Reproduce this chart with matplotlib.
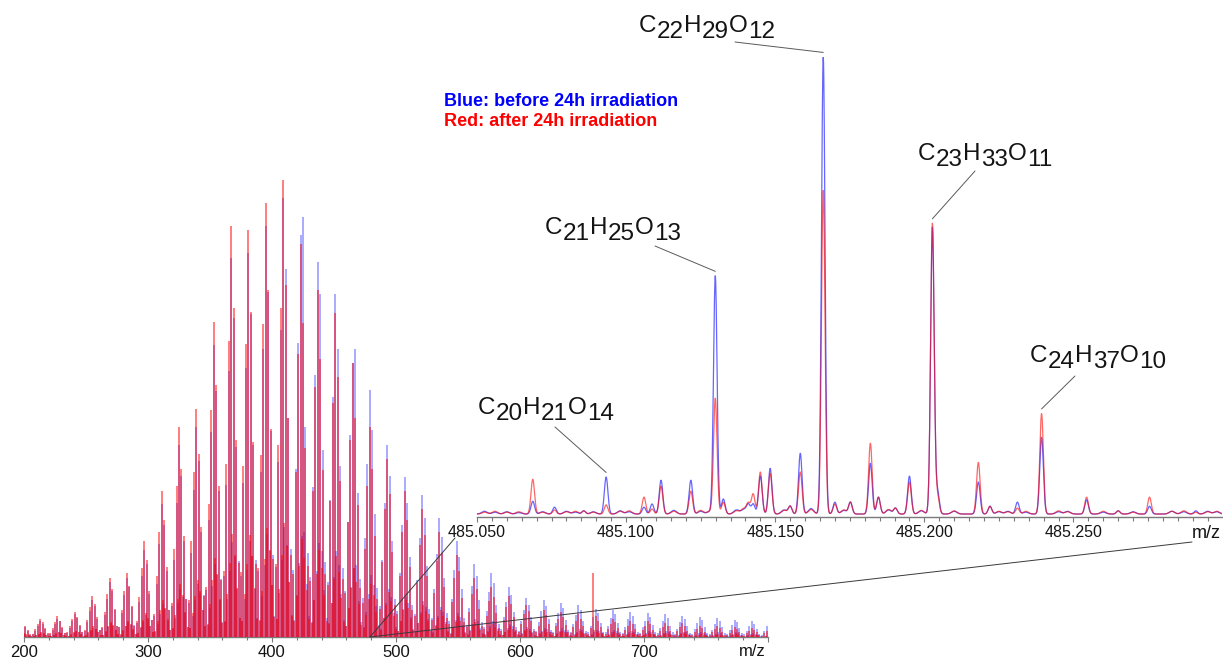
import re
import numpy as np
import matplotlib
matplotlib.use("Agg")
import matplotlib.pyplot as plt
from matplotlib.patches import ConnectionPatch
from matplotlib.ticker import MultipleLocator, FixedLocator

plt.rcParams['font.family'] = ['Liberation Sans', 'DejaVu Sans']

W, H = 1223, 660

# ---------------- overview spectrum (relative intensity, %) ----------------
odd_mz = np.arange(201, 800, 2)    # 201 .. 799
even_mz = np.arange(200, 799, 2)   # 200 .. 798

red_odd = [
    2.3, 1.5, 0.7,
    0.7, 1.7, 2.9, 4.0, 3.2, 1.9, 0.8,
    0.8, 1.9, 3.3, 4.5, 3.6, 2.1, 0.9,
    1.0, 2.3, 4.0, 5.5, 4.4, 2.6, 1.0,
    1.5, 3.8, 6.5, 9.0, 7.2, 4.3, 1.6,
    2.1, 5.5, 9.4, 13.0, 10.4, 6.2, 2.3,
    2.2, 5.9, 10.1, 14.0, 11.2, 6.7, 2.5,
    3.4, 8.8, 15.1, 21.0, 16.8, 10.1, 3.8,
    5.1, 13.4, 23.0, 32.0, 25.6, 15.4, 5.8,
    7.4, 19.3, 33.1, 46.0, 36.8, 22.1, 8.3,
    8.0, 21.0, 36.0, 50.0, 40.0, 24.0, 9.0,
    11.0, 29.0, 49.7, 69.0, 55.2, 33.1, 12.4,
    14.4, 37.8, 64.8, 90.0, 72.0, 43.2, 16.2,
    14.2, 37.4, 64.1, 89.0, 71.2, 42.7, 16.0,
    15.2, 39.9, 68.4, 95.0, 76.0, 45.6, 17.1,
    16.0, 42.0, 72.0, 100.0, 77.0, 48.0, 18.0,
    13.8, 36.1, 61.9, 86.0, 68.8, 41.3, 15.5,
    12.2, 31.9, 54.7, 76.0, 60.8, 36.5, 13.7,
    11.4, 29.8, 51.1, 71.0, 56.8, 34.1, 12.8,
    9.6, 25.2, 43.2, 60.0, 48.0, 28.8, 10.8,
    7.4, 19.3, 33.1, 46.0, 36.8, 22.1, 8.3,
    6.2, 16.4, 28.1, 39.0, 31.2, 18.7, 7.0,
    5.1, 13.4, 23.0, 32.0, 25.6, 15.4, 5.8,
    4.5, 11.8, 20.2, 28.0, 22.4, 13.4, 5.0,
    3.7, 9.7, 16.6, 23.0, 18.4, 11.0, 4.1,
    2.9, 7.6, 13.0, 18.0, 14.4, 8.6, 3.2,
    2.1, 5.5, 9.4, 13.0, 10.4, 6.2, 2.3,
    1.8, 4.6, 7.9, 11.0, 8.8, 5.3, 2.0,
    1.4, 3.8, 6.5, 9.0, 7.2, 4.3, 1.6,
    1.1, 2.9, 5.0, 7.0, 5.6, 3.4, 1.3,
    1.0, 2.5, 4.3, 6.0, 4.8, 2.9, 1.1,
    0.9, 2.3, 4.0, 5.5, 4.4, 2.6, 1.0,
    0.8, 2.1, 3.6, 5.0, 4.0, 2.4, 0.9,
    0.7, 1.9, 14.0, 4.5, 3.6, 2.2, 0.8,
    0.6, 1.7, 2.9, 4.0, 3.2, 1.9, 0.7,
    0.6, 1.5, 2.5, 3.5, 2.8, 1.7, 0.6,
    0.6, 1.5, 2.5, 3.4, 2.8, 1.6, 0.6,
    0.5, 1.3, 2.2, 3.0, 2.4, 1.4, 0.5,
    0.5, 1.3, 2.1, 3.0, 2.4, 1.4, 0.5,
    0.4, 1.1, 1.8, 2.5, 2.0, 1.2, 0.5,
    0.4, 1.1, 1.8, 2.5, 2.0, 1.2, 0.4,
    0.4, 0.9, 1.6, 2.2, 1.8, 1.1, 0.4,
    0.3, 0.8, 1.4, 2.0, 1.6, 1.0, 0.4,
    0.3, 0.8, 1.4,
]

blue_odd = [
    2.1, 1.3, 0.5,
    0.6, 1.4, 2.5, 3.5, 2.9, 1.8, 0.7,
    0.6, 1.6, 2.8, 4.0, 3.4, 2.0, 0.8,
    0.8, 2.0, 3.5, 5.0, 4.2, 2.5, 1.0,
    1.3, 3.2, 5.6, 8.0, 6.7, 4.0, 1.6,
    1.9, 4.8, 8.4, 12.0, 10.1, 6.0, 2.4,
    2.1, 5.2, 9.1, 13.0, 10.9, 6.5, 2.6,
    3.0, 7.6, 13.3, 19.0, 16.0, 9.5, 3.8,
    4.6, 11.6, 20.3, 29.0, 24.4, 14.5, 5.8,
    6.7, 16.8, 29.4, 42.0, 35.3, 21.0, 8.4,
    7.4, 18.4, 32.2, 46.0, 38.6, 23.0, 9.2,
    10.2, 25.6, 44.8, 64.0, 53.8, 32.0, 12.8,
    13.3, 33.2, 58.1, 83.0, 69.7, 41.5, 16.6,
    13.4, 33.6, 58.8, 84.0, 70.6, 42.0, 16.8,
    14.4, 36.0, 63.0, 90.0, 75.6, 45.0, 18.0,
    15.4, 38.4, 67.2, 96.0, 80.6, 48.0, 19.2,
    14.7, 36.8, 64.4, 88.0, 92.0, 46.0, 18.4,
    13.1, 32.8, 57.4, 82.0, 75.0, 41.0, 16.4,
    12.0, 30.0, 52.5, 75.0, 63.0, 37.5, 15.0,
    10.1, 25.2, 44.1, 60.0, 63.0, 31.5, 12.6,
    8.6, 21.6, 37.8, 54.0, 45.4, 27.0, 10.8,
    6.7, 16.8, 29.4, 42.0, 35.3, 21.0, 8.4,
    5.6, 14.0, 24.5, 35.0, 29.4, 17.5, 7.0,
    5.0, 12.4, 21.7, 31.0, 26.0, 15.5, 6.2,
    4.2, 10.4, 18.2, 26.0, 21.8, 13.0, 5.2,
    3.4, 8.4, 14.7, 21.0, 17.6, 10.5, 4.2,
    2.6, 6.4, 11.2, 16.0, 13.4, 8.0, 3.2,
    2.2, 5.6, 9.8, 14.0, 11.8, 7.0, 2.8,
    1.8, 4.4, 7.7, 11.0, 9.2, 5.5, 2.2,
    1.4, 3.4, 6.0, 8.5, 7.1, 4.3, 1.7,
    1.3, 3.2, 5.6, 8.0, 6.7, 4.0, 1.6,
    1.2, 3.0, 5.3, 7.5, 6.3, 3.8, 1.5,
    1.1, 2.8, 4.9, 7.0, 5.9, 3.5, 1.4,
    1.0, 2.5, 4.3, 6.2, 5.2, 3.1, 1.2,
    1.0, 2.4, 4.2, 6.0, 5.0, 3.0, 1.2,
    0.9, 2.2, 3.9, 5.5, 4.6, 2.8, 1.1,
    0.8, 2.1, 3.6, 5.2, 4.4, 2.6, 1.0,
    0.8, 2.0, 3.5, 5.0, 4.2, 2.5, 1.0,
    0.7, 1.8, 3.2, 4.6, 3.9, 2.3, 0.9,
    0.7, 1.8, 3.1, 4.4, 3.7, 2.2, 0.9,
    0.7, 1.6, 2.9, 4.1, 3.4, 2.1, 0.8,
    0.6, 1.5, 2.7, 3.8, 3.2, 1.9, 0.8,
    0.6, 1.4, 2.5, 3.5, 2.9, 1.8, 0.7,
    0.5, 1.3, 2.3,
]

red_even = [
    0.8, 0.6, 0.4, 0.3,
    0.2, 0.4, 0.7, 1.0, 0.8, 0.5, 0.2,
    0.2, 0.5, 0.8, 1.1, 0.9, 0.5, 0.2,
    0.3, 0.6, 1.0, 1.4, 1.1, 0.7, 0.3,
    0.4, 1.0, 1.6, 2.3, 1.8, 1.1, 0.4,
    0.5, 1.4, 2.4, 3.3, 2.6, 1.6, 0.6,
    0.6, 1.5, 2.5, 3.5, 2.8, 1.7, 0.6,
    0.9, 2.2, 3.8, 5.3, 4.2, 2.5, 1.0,
    1.3, 3.4, 5.8, 8.0, 6.4, 3.9, 1.5,
    1.9, 4.8, 8.3, 11.5, 9.2, 5.5, 2.1,
    2.0, 5.3, 9.0, 12.5, 10.0, 6.0, 2.3,
    2.8, 7.3, 12.4, 17.3, 13.8, 8.3, 3.1,
    3.6, 9.5, 16.2, 22.5, 18.0, 10.8, 4.1,
    3.6, 9.4, 16.0, 22.3, 17.8, 10.7, 4.0,
    3.8, 10.0, 17.1, 23.8, 19.0, 11.4, 4.3,
    4.0, 10.5, 18.0, 25.0, 20.0, 12.0, 4.5,
    3.5, 9.0, 15.5, 21.5, 17.2, 10.3, 3.9,
    3.1, 8.0, 13.7, 19.0, 15.2, 9.1, 3.4,
    2.9, 7.5, 12.8, 17.8, 14.2, 8.5, 3.2,
    2.4, 6.3, 10.8, 15.0, 12.0, 7.2, 2.7,
    1.9, 4.8, 8.3, 11.5, 9.2, 5.5, 2.1,
    1.6, 4.1, 7.0, 9.8, 7.8, 4.7, 1.8,
    1.3, 3.4, 5.8, 8.0, 6.4, 3.9, 1.5,
    1.1, 3.0, 5.1, 7.0, 5.6, 3.4, 1.3,
    0.9, 2.4, 4.2, 5.8, 4.6, 2.8, 1.0,
    0.7, 1.9, 3.3, 4.5, 3.6, 2.2, 0.8,
    0.5, 1.4, 2.4, 3.3, 2.6, 1.6, 0.6,
    0.5, 1.2, 2.0, 2.8, 2.2, 1.3, 0.5,
    0.4, 1.0, 1.6, 2.3, 1.8, 1.1, 0.4,
    0.3, 0.7, 1.3, 1.8, 1.4, 0.9, 0.3,
    0.3, 0.6, 1.1, 1.5, 1.2, 0.7, 0.3,
    0.2, 0.6, 1.0, 1.4, 1.1, 0.7, 0.3,
    0.2, 0.5, 0.9, 1.3, 1.0, 0.6, 0.2,
    0.2, 0.5, 1.5, 1.1, 0.9, 0.6, 0.2,
    0.2, 0.4, 0.7, 1.0, 0.8, 0.5, 0.2,
    0.2, 0.4, 0.6, 0.9, 0.7, 0.4, 0.2,
    0.2, 0.4, 0.6, 0.9, 0.7, 0.4, 0.2,
    0.1, 0.3, 0.6, 0.8, 0.6, 0.4, 0.1,
    0.1, 0.3, 0.6, 0.8, 0.6, 0.4, 0.1,
    0.1, 0.3, 0.5, 0.6, 0.5, 0.3, 0.1,
    0.1, 0.3, 0.5, 0.6, 0.5, 0.3, 0.1,
    0.1, 0.2, 0.4, 0.6, 0.5, 0.3, 0.1,
    0.1, 0.2, 0.4, 0.5, 0.4, 0.3, 0.1,
    0.1, 0.2,
]

blue_even = [
    0.7, 0.5, 0.3, 0.2,
    0.2, 0.4, 0.6, 0.9, 0.7, 0.5, 0.2,
    0.2, 0.4, 0.7, 1.0, 0.9, 0.5, 0.2,
    0.2, 0.5, 0.9, 1.3, 1.1, 0.6, 0.3,
    0.3, 0.8, 1.4, 2.0, 1.7, 1.0, 0.4,
    0.5, 1.2, 2.1, 3.0, 2.5, 1.5, 0.6,
    0.5, 1.3, 2.3, 3.3, 2.7, 1.6, 0.7,
    0.8, 1.9, 3.3, 4.8, 4.0, 2.4, 1.0,
    1.2, 2.9, 5.1, 7.3, 6.1, 3.6, 1.5,
    1.7, 4.2, 7.4, 10.5, 8.8, 5.3, 2.1,
    1.9, 4.6, 8.1, 11.5, 9.7, 5.8, 2.3,
    2.6, 6.4, 11.2, 16.0, 13.5, 8.0, 3.2,
    3.3, 8.3, 14.5, 20.8, 17.4, 10.4, 4.2,
    3.4, 8.4, 14.7, 21.0, 17.7, 10.5, 4.2,
    3.6, 9.0, 15.8, 22.5, 18.9, 11.3, 4.5,
    3.9, 9.6, 16.8, 24.0, 20.2, 12.0, 4.8,
    3.7, 9.2, 16.1, 22.0, 23.0, 11.5, 4.6,
    3.3, 8.2, 14.4, 20.5, 18.8, 10.3, 4.1,
    3.0, 7.5, 13.1, 18.8, 15.8, 9.4, 3.8,
    2.5, 6.3, 11.0, 15.0, 15.8, 7.9, 3.2,
    2.2, 5.4, 9.5, 13.5, 11.4, 6.8, 2.7,
    1.7, 4.2, 7.4, 10.5, 8.8, 5.3, 2.1,
    1.4, 3.5, 6.1, 8.8, 7.4, 4.4, 1.8,
    1.3, 3.1, 5.4, 7.8, 6.5, 3.9, 1.6,
    1.1, 2.6, 4.6, 6.5, 5.5, 3.3, 1.3,
    0.9, 2.1, 3.7, 5.3, 4.4, 2.6, 1.1,
    0.7, 1.6, 2.8, 4.0, 3.4, 2.0, 0.8,
    0.6, 1.4, 2.5, 3.5, 3.0, 1.8, 0.7,
    0.5, 1.1, 1.9, 2.8, 2.3, 1.4, 0.6,
    0.4, 0.9, 1.5, 2.1, 1.8, 1.1, 0.4,
    0.3, 0.8, 1.4, 2.0, 1.7, 1.0, 0.4,
    0.3, 0.8, 1.3, 1.9, 1.6, 1.0, 0.4,
    0.3, 0.7, 1.2, 1.8, 1.5, 0.9, 0.4,
    0.3, 0.6, 1.1, 1.6, 1.3, 0.8, 0.3,
    0.3, 0.6, 1.1, 1.5, 1.3, 0.8, 0.3,
    0.2, 0.6, 1.0, 1.4, 1.2, 0.7, 0.3,
    0.2, 0.5, 0.9, 1.3, 1.1, 0.7, 0.3,
    0.2, 0.5, 0.9, 1.3, 1.1, 0.6, 0.3,
    0.2, 0.5, 0.8, 1.2, 1.0, 0.6, 0.2,
    0.2, 0.5, 0.8, 1.1, 0.9, 0.6, 0.2,
    0.2, 0.4, 0.7, 1.0, 0.9, 0.5, 0.2,
    0.2, 0.4, 0.7, 1.0, 0.8, 0.5, 0.2,
    0.2, 0.4, 0.6, 0.9, 0.7, 0.5, 0.2,
    0.1, 0.3,
]

main_ticks = [200, 300, 400, 500, 600, 700, 800]
main_ticklabels = ['200', '300', '400', '500', '600', '700', '']

# ---------------- zoomed spectrum around m/z 485 ----------------
zoom_mz = [485.0687, 485.0760, 485.0858, 485.0933, 485.1060, 485.1087, 485.1117,
           485.1217, 485.1299, 485.1326, 485.1410, 485.1426, 485.1450, 485.1483,
           485.1550, 485.1584, 485.1661, 485.1700, 485.1752, 485.1819, 485.1846,
           485.1903, 485.1950, 485.2027, 485.2044, 485.2181, 485.2220, 485.2312,
           485.2393, 485.2544, 485.2650, 485.2755, 485.2910]
zoom_blue = [2.8, 1.5, 0.7, 8.1, 1.5, 2.2, 7.4,
             7.4, 52.1, 3.3, 2.0, 2.2, 8.3, 10.0,
             1.7, 13.3, 100.0, 2.6, 2.6, 11.1, 3.7,
             1.3, 8.3, 62.7, 4.8, 7.0, 1.7, 2.6,
             16.8, 3.1, 0.7, 1.7, 0.7]
zoom_red = [7.6, 0.9, 0.7, 2.0, 3.7, 1.1, 6.1,
            5.0, 25.3, 2.6, 2.2, 4.4, 9.2, 8.9,
            1.7, 9.2, 70.8, 2.2, 2.6, 15.5, 3.7,
            1.3, 7.0, 63.6, 3.9, 11.3, 1.7, 1.3,
            22.0, 3.7, 0.7, 3.7, 0.4]

noise_mz = [485.0525, 485.0560, 485.0600, 485.0640, 485.0720, 485.0800, 485.0830,
            485.0890, 485.0980, 485.1010, 485.1160, 485.1250, 485.1280, 485.1370,
            485.1395, 485.1530, 485.1620, 485.1730, 485.1880, 485.1990, 485.2100,
            485.2250, 485.2280, 485.2340, 485.2450, 485.2480, 485.2600, 485.2700,
            485.2830, 485.2870, 485.2950, 485.2980]
noise_blue = [0.6, 0.4, 0.5, 0.3, 0.5, 0.6, 0.4, 0.5, 0.7, 0.5, 0.8, 0.6, 0.5, 0.9,
              1.0, 0.9, 1.2, 0.8, 0.9, 0.7, 0.6, 0.5, 0.6, 0.4, 0.5, 0.6, 0.4, 0.5,
              0.6, 0.5, 0.6, 0.5]
noise_red = [0.4, 0.6, 0.4, 0.5, 0.4, 0.5, 0.6, 0.4, 0.6, 0.7, 0.6, 0.8, 0.6, 0.7,
             1.2, 0.8, 1.0, 0.9, 1.0, 0.8, 0.7, 0.6, 0.5, 0.6, 0.7, 0.5, 0.6, 0.4,
             0.6, 0.7, 0.5, 0.6]

zoom_ticks = [485.05, 485.10, 485.15, 485.20, 485.25]
zoom_ticklabels = ['485.050', '485.100', '485.150', '485.200', '485.250']

formula_labels = ['C22H29O12', 'C23H33O11', 'C21H25O13', 'C24H37O10', 'C20H21O14']
formula_mz = [485.1661, 485.2027, 485.1299, 485.2393, 485.0933]

legend_lines = ['Blue: before 24h irradiation', 'Red: after 24h irradiation']

# ---------------- layout (pixels from top-left) ----------------
label_pos = [(639, 32), (918, 160), (545, 234), (1030, 362), (478, 414)]
leader_start = [(735, 42), (975, 171), (655, 246), (1075, 376), (555, 427)]

BLUE = '#0000ff'
RED = '#ff0000'
GREY = '#7a7a7a'
TXT = '#141414'

fig = plt.figure(figsize=(W / 100, H / 100), dpi=100)
fig.patch.set_facecolor('white')


def fx(x):
    return x / W


def fy(y):
    return (H - y) / H


# main overview axes
ax = fig.add_axes([fx(24), fy(637), 744 / W, 457 / H])
ax.set_xlim(200, 800)
ax.set_ylim(0, 100)
ax.patch.set_alpha(0)
LW = 1.3
ax.vlines(odd_mz, 0, blue_odd, colors=BLUE, linewidth=LW, alpha=0.36, zorder=2)
ax.vlines(even_mz, 0, blue_even, colors=BLUE, linewidth=LW, alpha=0.36, zorder=2)
ax.vlines(odd_mz, 0, red_odd, colors=RED, linewidth=LW, alpha=0.55, zorder=3)
ax.vlines(even_mz, 0, red_even, colors=RED, linewidth=LW, alpha=0.55, zorder=3)
for s in ['left', 'right', 'top']:
    ax.spines[s].set_visible(False)
ax.spines['bottom'].set_color(GREY)
ax.spines['bottom'].set_linewidth(1.0)
ax.xaxis.set_major_locator(FixedLocator(main_ticks))
ax.set_xticklabels(main_ticklabels)
ax.xaxis.set_minor_locator(MultipleLocator(20))
ax.tick_params(axis='x', which='major', length=3.5, width=0.8, color=GREY,
               labelsize=12, labelcolor=TXT, pad=2.5)
ax.tick_params(axis='x', which='minor', length=2.5, width=0.8, color=GREY)
ax.set_yticks([])
fig.text(fx(752), fy(652), 'm/z', fontsize=12, color=TXT, ha='center', va='center')

# zoomed axes
ax2 = fig.add_axes([fx(477), fy(517), 745 / W, 460 / H])
ax2.set_xlim(485.05, 485.2998)
ax2.set_ylim(-0.65, 100)
ax2.patch.set_alpha(0)
xf = np.linspace(485.05, 485.2998, 3000)
sig = 0.0006


def profile(mzs, hs, s):
    y = np.zeros_like(xf)
    for m, h in zip(mzs, hs):
        y += h * np.exp(-0.5 * ((xf - m) / s) ** 2)
    return y


yb = profile(zoom_mz, zoom_blue, sig) + profile(noise_mz, noise_blue, 0.0009)
yr = profile(zoom_mz, zoom_red, sig) + profile(noise_mz, noise_red, 0.0009)
ax2.plot(xf, yb, color=BLUE, lw=0.9, alpha=0.6, zorder=2)
ax2.plot(xf, yr, color=RED, lw=0.9, alpha=0.6, zorder=3)
for s in ['left', 'right', 'top']:
    ax2.spines[s].set_visible(False)
ax2.spines['bottom'].set_color(GREY)
ax2.spines['bottom'].set_linewidth(1.0)
ax2.xaxis.set_major_locator(FixedLocator(zoom_ticks))
ax2.set_xticklabels(zoom_ticklabels)
ax2.xaxis.set_minor_locator(MultipleLocator(0.005))
ax2.tick_params(axis='x', which='major', length=3.5, width=0.8, color=GREY,
                labelsize=11.5, labelcolor=TXT, pad=2.5)
ax2.tick_params(axis='x', which='minor', length=3.0, width=0.8, color=GREY)
ax2.set_yticks([])
fig.text(fx(1206), fy(533), 'm/z', fontsize=13, color=TXT, ha='center', va='center')

# legend text
fig.text(fx(444), fy(102), legend_lines[0], color=BLUE, fontsize=13,
         fontweight='bold', ha='left', va='center')
fig.text(fx(444), fy(122), legend_lines[1], color=RED, fontsize=13,
         fontweight='bold', ha='left', va='center')

# formula labels with subscripts
renderer = fig.canvas.get_renderer()


def draw_formula(text, x_left, y_base, fs=17.5, drop=5.5, gap=0.3):
    x = x_left
    for tok in re.findall(r'[A-Z][a-z]?|\d+', text):
        y = y_base + (drop if tok.isdigit() else 0)
        t = fig.text(fx(x), fy(y), tok, fontsize=fs, color=TXT, ha='left',
                     va='baseline')
        x += t.get_window_extent(renderer).width + gap


for lab, (lx, ly), (sx, sy), m in zip(formula_labels, label_pos, leader_start, formula_mz):
    draw_formula(lab, lx, ly)
    i = zoom_mz.index(m)
    top = max(zoom_blue[i], zoom_red[i]) + 1.0
    con = ConnectionPatch(xyA=(sx, H - sy), coordsA='figure pixels',
                          xyB=(m, top), coordsB=ax2.transData,
                          color='#5a5a5a', lw=0.7)
    fig.add_artist(con)

# zoom connector lines from the overview axis to the zoomed axis
for end in [(455, 538), (1192, 542)]:
    con = ConnectionPatch(xyA=(479, 0), coordsA=ax.transData,
                          xyB=(end[0], H - end[1]), coordsB='figure pixels',
                          color='#3a3a3a', lw=0.7)
    fig.add_artist(con)

fig.savefig('out.png', dpi=100, facecolor='white')
